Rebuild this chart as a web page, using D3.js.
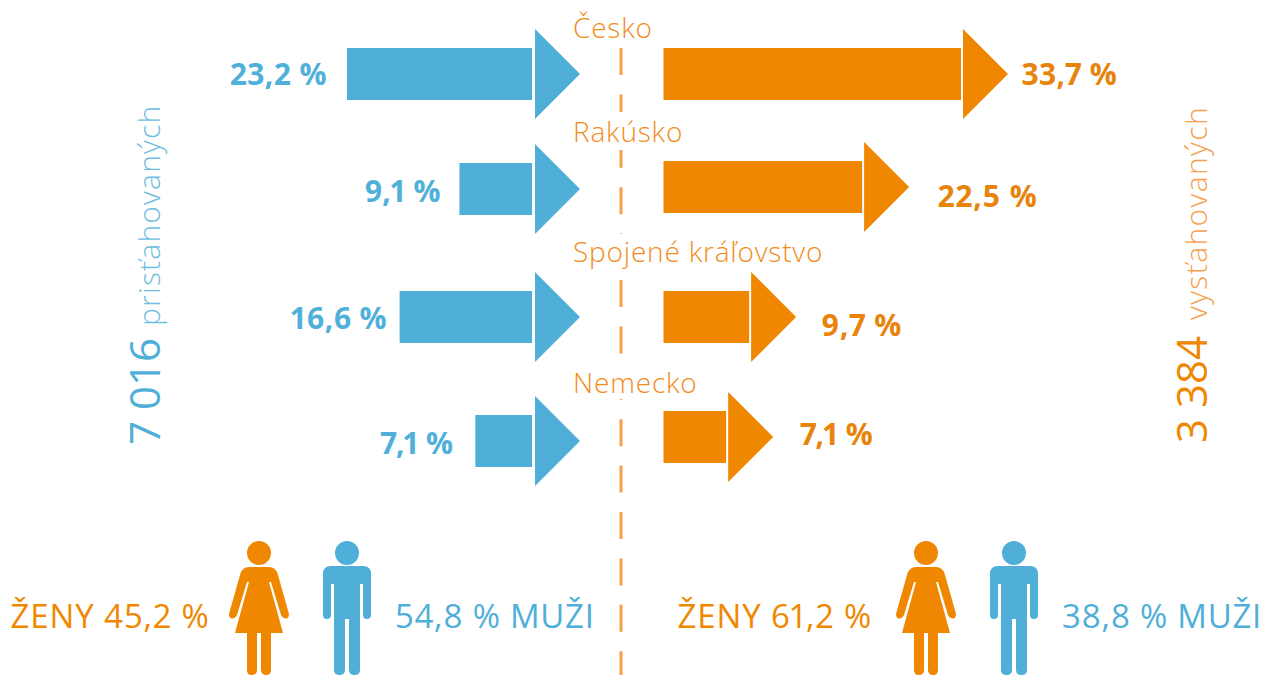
<!DOCTYPE html>
<html>
<head>
<meta charset="utf-8">
<script src="https://cdn.jsdelivr.net/npm/d3@7"></script>
<style>
  html, body { margin: 0; padding: 0; background: #fff; }
  svg { display: block; font-family: "Open Sans", sans-serif; font-variant-numeric: proportional-nums; }
</style>
</head>
<body>
<script>
const countries = ["Česko", "Rakúsko", "Spojené kráľovstvo", "Nemecko"];
const immigrants = [23.2, 9.1, 16.6, 7.1];
const emigrants = [33.7, 22.5, 9.7, 7.1];
const totals = ["7 016", "3 384"];
const totalLabels = ["prisťahovaných", "vysťahovaných"];
const women = [45.2, 61.2];
const men = [54.8, 38.8];

const width = 1262, height = 675;
const blue = "#4fafd9", orange = "#f08700", lightOrange = "#f6a04d";
const barH = 52, headW = 45, headH = 45;

const fmt = d3.formatLocale({decimal: ",", thousands: " ", grouping: [3], currency: ["", ""]}).format(".1f");

// bar lengths, the two sides are not drawn to the same scale
const xLeft = d3.scaleLinear().domain([0, 23.2]).range([0, 185]);
const xRight = d3.scaleLinear().domain([0, 33.7]).range([0, 297.5]);
const yLeft = d3.scaleOrdinal(countries, [74, 189, 317, 441]);
const yRight = d3.scaleOrdinal(countries, [74, 187, 317, 437]);
const labelY = d3.scaleOrdinal(countries, [38, 142, 262, 393]);
const maskY = d3.scaleOrdinal(countries, [[0, 45], [112, 150], [234, 270], [365, 399]]);

const leftEnd = 532, rightStart = 663.5;
const gapLeft = [20, 19, 13, 23];
const gapRight = [13.5, 28.5, 25, 27];
const dyLeft = [11, 13, 12, 13];
const dyRight = [11, 20, 19, 8];
const spacingLeft = [0.5, -0.2, 0.1, -0.6];
const spacingRight = [0.3, 1, 0.7, -0.6];

const svg = d3.select("body").append("svg")
    .attr("width", width)
    .attr("height", height)
    .attr("viewBox", [0, 0, width, height]);

// dashed middle line
svg.append("line")
    .attr("x1", 621).attr("x2", 621)
    .attr("y1", 1.6).attr("y2", height)
    .attr("stroke", lightOrange)
    .attr("stroke-width", 3)
    .attr("stroke-dasharray", "27 19.4");

// labels knock the line out
svg.append("g").selectAll("rect")
    .data(countries)
    .join("rect")
    .attr("x", 600)
    .attr("width", 50)
    .attr("y", d => maskY(d)[0])
    .attr("height", d => maskY(d)[1] - maskY(d)[0])
    .attr("fill", "#fff");

svg.append("g").selectAll("text")
    .data(countries)
    .join("text")
    .attr("x", 573)
    .attr("y", d => labelY(d))
    .attr("font-size", 28)
    .attr("font-weight", 300)
    .attr("letter-spacing", 0.8)
    .attr("fill", "#f28c1c")
    .text(d => d);

function head(x, c) {
    const p = d3.path();
    p.moveTo(x, c - headH);
    p.lineTo(x + headW, c);
    p.lineTo(x, c + headH);
    p.closePath();
    return p.toString();
}

const leftG = svg.append("g").attr("fill", blue);
leftG.selectAll("rect")
    .data(immigrants)
    .join("rect")
    .attr("x", d => leftEnd - xLeft(d))
    .attr("y", (d, i) => yLeft(countries[i]) - barH / 2)
    .attr("width", d => xLeft(d))
    .attr("height", barH);
leftG.selectAll("path")
    .data(immigrants)
    .join("path")
    .attr("d", (d, i) => head(leftEnd + 3, yLeft(countries[i])));

const rightG = svg.append("g").attr("fill", orange);
rightG.selectAll("rect")
    .data(emigrants)
    .join("rect")
    .attr("x", rightStart)
    .attr("y", (d, i) => yRight(countries[i]) - barH / 2)
    .attr("width", d => xRight(d))
    .attr("height", barH);
rightG.selectAll("path")
    .data(emigrants)
    .join("path")
    .attr("d", (d, i) => head(rightStart + xRight(d) + 2, yRight(countries[i])));

// value labels
svg.append("g").selectAll("text")
    .data(immigrants)
    .join("text")
    .attr("x", (d, i) => leftEnd - xLeft(d) - gapLeft[i])
    .attr("y", (d, i) => yLeft(countries[i]) + dyLeft[i])
    .attr("text-anchor", "end")
    .attr("font-size", 30)
    .attr("font-weight", 700)
    .attr("letter-spacing", (d, i) => spacingLeft[i])
    .attr("fill", "#51b0da")
    .text(d => fmt(d) + " %");

svg.append("g").selectAll("text")
    .data(emigrants)
    .join("text")
    .attr("x", (d, i) => rightStart + xRight(d) + 2 + headW + gapRight[i])
    .attr("y", (d, i) => yRight(countries[i]) + dyRight[i])
    .attr("font-size", 30)
    .attr("font-weight", 700)
    .attr("letter-spacing", (d, i) => spacingRight[i])
    .attr("fill", "#e8830c")
    .text(d => fmt(d) + " %");

// rotated totals
const sideX = [160, 1207], sideY = [445, 443], sideDx = [12, 16], sideSpacing = [1.2, 1.4];
const sideColor = [blue, orange], sideLight = ["#6fbde0", "#f6a04d"];
totals.forEach((t, i) => {
    const txt = svg.append("text")
        .attr("transform", `translate(${sideX[i]},${sideY[i]}) rotate(-90)`)
        .attr("fill", sideColor[i]);
    txt.append("tspan").attr("font-size", 42).attr("font-weight", 500)
        .style("font-variant-numeric", "tabular-nums").text(t);
    txt.append("tspan").attr("dx", sideDx[i]).attr("font-size", 30).attr("font-weight", 300)
        .attr("letter-spacing", sideSpacing[i])
        .attr("fill", sideLight[i]).text(totalLabels[i]);
});

// pictograms, drawn around the centre of the head
function woman(g) {
    g.append("circle").attr("r", 12);
    const p = d3.path();
    p.moveTo(-10, 14);
    p.lineTo(10, 14);
    p.quadraticCurveTo(17, 14, 19, 22);
    p.lineTo(30, 61);
    p.quadraticCurveTo(30, 66, 26, 65.5);
    p.quadraticCurveTo(23, 65, 22, 62);
    p.lineTo(12, 29);
    p.lineTo(10, 29);
    p.lineTo(24, 80);
    p.lineTo(12, 80);
    p.lineTo(12, 117);
    p.quadraticCurveTo(12, 122, 7.5, 122);
    p.quadraticCurveTo(2, 122, 2, 117);
    p.lineTo(2, 80);
    p.lineTo(-2, 80);
    p.lineTo(-2, 117);
    p.quadraticCurveTo(-2, 122, -7.5, 122);
    p.quadraticCurveTo(-12, 122, -12, 117);
    p.lineTo(-12, 80);
    p.lineTo(-24, 80);
    p.lineTo(-10, 29);
    p.lineTo(-12, 29);
    p.lineTo(-22, 62);
    p.quadraticCurveTo(-23, 65, -26, 65.5);
    p.quadraticCurveTo(-30, 66, -30, 61);
    p.lineTo(-19, 22);
    p.quadraticCurveTo(-17, 14, -10, 14);
    p.closePath();
    g.append("path").attr("d", p.toString());
}

function man(g) {
    g.append("circle").attr("r", 12);
    const p = d3.path();
    p.moveTo(-16, 13);
    p.lineTo(16, 13);
    p.quadraticCurveTo(24, 13, 24, 21);
    p.lineTo(24, 62);
    p.quadraticCurveTo(24, 66, 20, 66);
    p.quadraticCurveTo(16, 66, 16, 62);
    p.lineTo(16, 31);
    p.lineTo(13, 31);
    p.lineTo(13, 117);
    p.quadraticCurveTo(13, 122, 7.5, 122);
    p.quadraticCurveTo(2, 122, 2, 117);
    p.lineTo(2, 66);
    p.lineTo(-2, 66);
    p.lineTo(-2, 117);
    p.quadraticCurveTo(-2, 122, -7.5, 122);
    p.quadraticCurveTo(-13, 122, -13, 117);
    p.lineTo(-13, 31);
    p.lineTo(-16, 31);
    p.lineTo(-16, 62);
    p.quadraticCurveTo(-16, 66, -20, 66);
    p.quadraticCurveTo(-24, 66, -24, 62);
    p.lineTo(-24, 21);
    p.quadraticCurveTo(-24, 13, -16, 13);
    p.closePath();
    g.append("path").attr("d", p.toString());
}

const figY = 553;
const womanX = [259, 926], manX = [347, 1014];
const womanTextX = [10.5, 677.5], manTextX = [395, 1062];
women.forEach((v, i) => {
    svg.append("g").attr("transform", `translate(${womanX[i]},${figY})`).attr("fill", orange).call(woman);
    svg.append("g").attr("transform", `translate(${manX[i]},${figY})`).attr("fill", blue).call(man);
    svg.append("text").attr("x", womanTextX[i]).attr("y", 628)
        .attr("font-size", 33).attr("letter-spacing", 0.9).attr("fill", orange)
        .text(`ŽENY ${fmt(v)} %`);
    svg.append("text").attr("x", manTextX[i]).attr("y", 628)
        .attr("font-size", 33).attr("letter-spacing", 0.7).attr("fill", blue)
        .text(`${fmt(men[i])} % MUŽI`);
});
</script>
</body>
</html>
